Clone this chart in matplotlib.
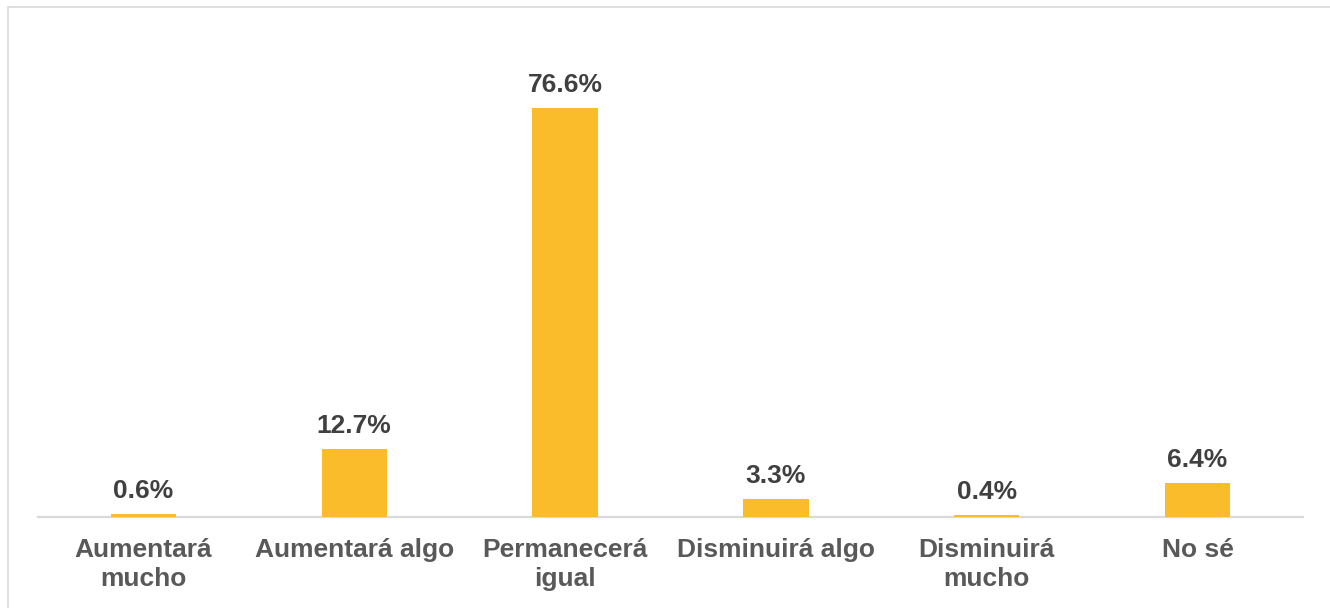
import matplotlib.pyplot as plt
from matplotlib.patches import Rectangle

categories = ["Aumentará\nmucho", "Aumentará algo", "Permanecerá\nigual",
              "Disminuirá algo", "Disminuirá\nmucho", "No sé"]
values = [0.6, 12.7, 76.6, 3.3, 0.4, 6.4]
value_labels = ["0.6%", "12.7%", "76.6%", "3.3%", "0.4%", "6.4%"]

plt.rcParams["font.family"] = ["Liberation Sans", "DejaVu Sans"]

fig = plt.figure(figsize=(13.3, 6.08), dpi=100)
ax = fig.add_axes([38 / 1330, (608 - 517) / 608, (1303 - 38) / 1330, (517 - 8) / 608])

x = range(len(categories))
bars = ax.bar(x, values, width=0.31, color="#FBBC2C", zorder=3)

for b, lab in zip(bars, value_labels):
    ax.annotate(lab, (b.get_x() + b.get_width() / 2, b.get_height()),
                xytext=(0, 8), textcoords="offset points", ha="center", va="bottom",
                fontsize=19, fontweight="bold", color="#404040")

ax.set_xlim(-0.5, 5.5)
ax.set_ylim(0, (517 - 8) / 5.34)
ax.set_xticks(list(x))
ax.set_xticklabels(categories, fontsize=19, fontweight="bold", color="#595959",
                   linespacing=1.25)
ax.tick_params(axis="x", length=0, pad=15)
ax.set_yticks([])
for s in ["top", "right", "left"]:
    ax.spines[s].set_visible(False)
ax.spines["bottom"].set_color("#D9D9D9")
ax.spines["bottom"].set_linewidth(1.6)
ax.spines["bottom"].set_zorder(2)

# outer chart border
fig.patches.append(Rectangle((8 / 1330, -0.01), 1.1, (608 - 7) / 608 + 0.01,
                             transform=fig.transFigure, fill=False,
                             edgecolor="#D9D9D9", linewidth=1.2))

plt.savefig("out.png")
